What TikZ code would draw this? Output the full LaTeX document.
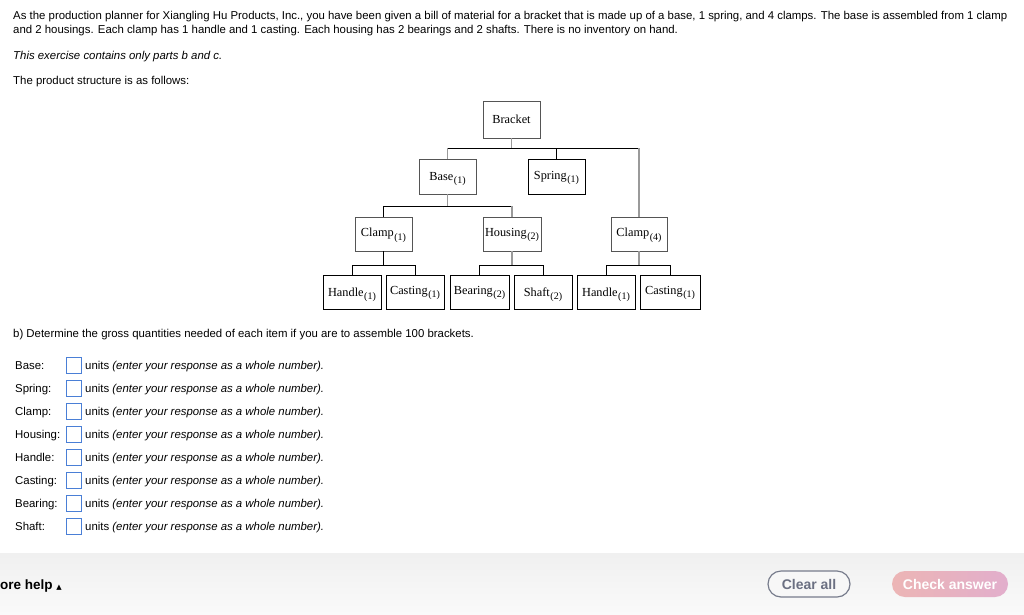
\documentclass[tikz,border=0pt]{standalone}
\usepackage{fontspec}
\setmainfont{Liberation Sans}
\newfontfamily\tms{Liberation Serif}
\newfontfamily\djv{DejaVu Sans}
\usetikzlibrary{calc}
\definecolor{inblue}{HTML}{4A7FD6}
\definecolor{linegray}{HTML}{9A9A9A}
\definecolor{boxgray}{HTML}{555555}
\definecolor{btngray}{HTML}{777C8C}
\definecolor{btntext}{HTML}{6B7082}
\definecolor{pinkL}{HTML}{ECB5B5}
\definecolor{pinkR}{HTML}{E2AECC}
\newcommand\sbq[1]{\kern0.6pt\raisebox{-3.2pt}[6pt][0pt]{\fontsize{10}{10}\selectfont(#1)}}
\tikzset{
  bx/.style={draw=black, line width=0.9pt, inner sep=0pt, fill=white,
    font=\tms\fontsize{12.3}{12}\selectfont, minimum height=34},
  gbx/.style={bx, draw=boxgray},
  bl/.style={draw=black, line width=0.9pt},
  gl/.style={draw=linegray, line width=1.3pt},
  para/.style={anchor=base west, inner sep=0pt, font=\fontsize{11.4}{13}\selectfont},
  ibox/.style={draw=inblue, line width=1pt, minimum width=15, minimum height=16, inner sep=0pt},
  btn/.style={rounded corners=13pt, minimum height=26, inner sep=0pt, font=\bfseries\fontsize{14}{14}\selectfont},
}
\begin{document}
\begin{tikzpicture}[x=1pt,y=-1pt]
\useasboundingbox (0,0) rectangle (1024,614);
\fill[white] (0,0) rectangle (1024,614);

% top text
\node[para] (l1) at (13,19.5) {As the production planner for Xiangling Hu Products, Inc., you have been given a bill of material for a bracket that is made up of a base, 1 spring, and 4 clamps. The base is assembled from 1 clamp};
\node[para] (l2) at (13,33.5) {and 2 housings. Each clamp has 1 handle and 1 casting. Each housing has 2 bearings and 2 shafts. There is no inventory on hand.};
\node[para] (l3) at (13,59) {\itshape This exercise contains only parts b and c.};
\node[para] (l4) at (13,84) {The product structure is as follows:};

% tree
\node[gbx, minimum width=57, minimum height=37] (bracket) at (511.5,119.5) {Bracket};
\node[gbx, minimum width=57, minimum height=35] (base) at (447.5,176.5) {Base\sbq{1}};
\node[bx, minimum width=57, minimum height=35] (spring) at (556.5,176.5) {Spring\sbq{1}};
\node[gbx, minimum width=57] (clampA) at (383.5,234) {Clamp\sbq{1}};
\node[gbx, minimum width=58] (housing) at (512,234) {Housing\sbq{2}};
\node[gbx, minimum width=56] (clampB) at (639,234) {Clamp\sbq{4}};
\node[bx, minimum width=58] (handleA) at (352,292) {Handle\sbq{1}};
\node[bx, minimum width=58] (castingA) at (415,292) {Casting\sbq{1}};
\node[bx, minimum width=59] (bearing) at (479.5,292) {Bearing\sbq{2}};
\node[bx, minimum width=58] (shaft) at (543,292) {Shaft\sbq{2}};
\node[bx, minimum width=58] (handleB) at (606,292) {Handle\sbq{1}};
\node[bx, minimum width=60] (castingB) at (670,292) {Casting\sbq{1}};

\coordinate (busA) at (0,148);
\coordinate (busB) at (0,206);
\coordinate (busC) at (0,265);

\draw[gl] (bracket.south) -- (bracket.south |- busA);
\draw[bl] (base.north |- busA) -- (clampB.north |- busA);
\draw[gl] (base.north |- busA) -- (base.north);
\draw[bl] (spring.north |- busA) -- (spring.north);
\draw[gl] (clampB.north |- busA) -- (clampB.north);

\draw[gl] (base.south) -- (base.south |- busB);
\draw[bl] (clampA.north |- busB) -- (housing.north |- busB);
\draw[bl] (clampA.north |- busB) -- (clampA.north);
\draw[gl] (housing.north |- busB) -- (housing.north);

\draw[bl] (clampA.south) -- (clampA.south |- busC);
\draw[bl] (handleA.north |- busC) -- (castingA.north |- busC);
\draw[bl] (handleA.north |- busC) -- (handleA.north);
\draw[bl] (castingA.north |- busC) -- (castingA.north);

\draw[gl] (housing.south) -- (housing.south |- busC);
\draw[bl] (bearing.north |- busC) -- (shaft.north |- busC);
\draw[bl] (bearing.north |- busC) -- (bearing.north);
\draw[bl] (shaft.north |- busC) -- (shaft.north);

\draw[gl] (clampB.south) -- (clampB.south |- busC);
\draw[bl] (handleB.north |- busC) -- (castingB.north |- busC);
\draw[bl] (handleB.north |- busC) -- (handleB.north);
\draw[bl] (castingB.north |- busC) -- (castingB.north);

% question
\node[para] (qb) at (13,337) {b) Determine the gross quantities needed of each item if you are to assemble 100 brackets.};
\foreach \lab/\nm [count=\i from 0] in {Base/base,Spring/spring,Clamp/clamp,Housing/housing,Handle/handle,Casting/casting,Bearing/bearing,Shaft/shaft}{
  \node[para] (lab\nm) at (15,{369+23*\i}) {\lab:};
  \node[ibox] (in\nm) at (73.5,{365+23*\i}) {};
  \node[para] (unit\nm) at (85,{369+23*\i}) {units \textit{(enter your response as a whole number).}};
}

% bottom bar
\shade[top color=black!6, bottom color=black!2] (0,553) rectangle (1024,614);
\node[anchor=base west, inner sep=0pt, font=\bfseries\fontsize{13.5}{13}\selectfont] (help) at (0,589) {ore help {\djv\fontsize{7}{7}\selectfont ▲}};
\node[btn, draw=btngray, line width=1.2pt, fill=black!3, minimum width=82, text=btntext] (clear) at (809,584) {Clear all};
\node[btn, left color=pinkL, right color=pinkR, minimum width=116, text=white] (check) at (950,584) {Check answer};
\end{tikzpicture}
\end{document}
